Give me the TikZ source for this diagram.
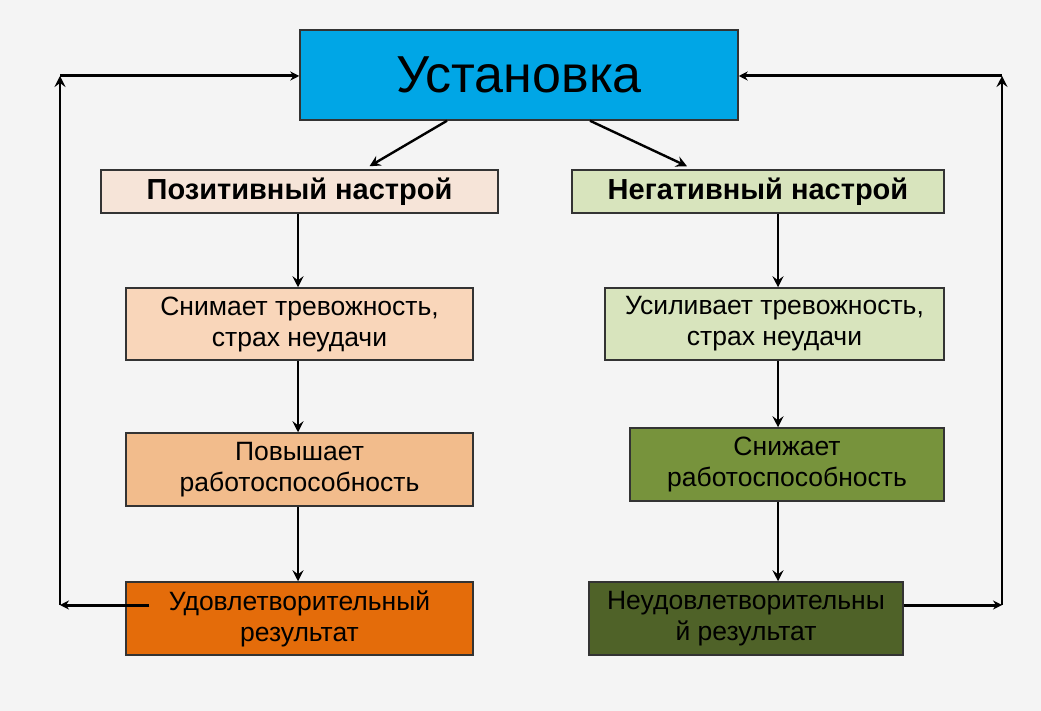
\documentclass[tikz,border=0pt]{standalone}
\usepackage{fontspec}
\setmainfont{Liberation Sans}
\usetikzlibrary{arrows.meta}
\usetikzlibrary{calc}

\definecolor{fon}{HTML}{F4F4F4}
\definecolor{sinij}{HTML}{00A6E6}
\definecolor{bezh}{HTML}{F6E4D8}
\definecolor{persik}{HTML}{F9D6BA}
\definecolor{persiktemn}{HTML}{F2BC8C}
\definecolor{oranzh}{HTML}{E46C0A}
\definecolor{salat}{HTML}{D8E4BD}
\definecolor{olivka}{HTML}{77933C}
\definecolor{olivkatemn}{HTML}{4F6228}

\begin{document}
\begin{tikzpicture}[
        x=1pt, y=-1pt, % Координаты в пикселях исходной картинки
        font=\fontsize{26.5}{31}\selectfont,
        % --- Стили ---
        box/.style={draw=black!80, line width=1.5pt, align=center, inner sep=0pt},
        headbox/.style={box, font=\bfseries\fontsize{29}{32}\selectfont},
        arrow/.style={-{Stealth[length=11pt, width=11pt, inset=4pt]}, line width=2.4pt},
        loop/.style={-{Stealth[length=9pt, width=9pt, inset=3pt]}, line width=3pt},
    ]
        % --- 0. Фон ---
        \fill[fon] (0,0) rectangle (1041,711);
        \useasboundingbox (0,0) rectangle (1041,711);

        % --- 1. Главный блок ---
        \node[box, fill=sinij, minimum width=438pt, minimum height=90pt,
              font=\fontsize{52}{56}\selectfont] (ustanovka) at (519,75) {Установка};

        % --- 2. Левая ветка ---
        \node[headbox, fill=bezh, minimum width=397pt, minimum height=43pt] (pozitiv) at (299.5,191.5) {Позитивный настрой};
        \node[box, fill=persik, minimum width=347pt, minimum height=72pt] (snimaet) at (299.5,324) {Снимает тревожность,\\страх неудачи};
        \node[box, fill=persiktemn, minimum width=347pt, minimum height=73pt] (povyshaet) at (299.5,469.5) {Повышает\\работоспособность};
        \node[box, fill=oranzh, minimum width=347pt, minimum height=73pt] (udovl) at (299.5,618.5) {Удовлетворительный\\результат};

        % --- 3. Правая ветка ---
        \node[headbox, fill=salat, minimum width=372pt, minimum height=43pt] (negativ) at (758,191.5) {Негативный настрой};
        \node[box, fill=salat, minimum width=339pt, minimum height=72pt] (usilivaet) at (774.5,324) {Усиливает тревожность,\\страх неудачи};
        \node[box, fill=olivka, minimum width=314pt, minimum height=73pt] (snizhaet) at (787,464.5) {Снижает\\работоспособность};
        \node[box, fill=olivkatemn, text=black, minimum width=314pt, minimum height=73pt] (neudovl) at (746,618.5) {Неудовлетворительны\\й результат};

        % --- 4. Стрелки вниз ---
        \coordinate (lcol) at (298,0);
        \coordinate (rcol) at (778,0);
        \draw[arrow] ($(ustanovka.south)+(-72,0)$) -- ($(pozitiv.north)+(70,-3)$);
        \draw[arrow] ($(ustanovka.south)+(71,0)$) -- ($(negativ.north)+(-71,-3)$);
        \draw[arrow] (pozitiv.south -| lcol) -- (snimaet.north -| lcol);
        \draw[arrow] (snimaet.south -| lcol) -- (povyshaet.north -| lcol);
        \draw[arrow] (povyshaet.south -| lcol) -- (udovl.north -| lcol);
        \draw[arrow] (negativ.south -| rcol) -- (usilivaet.north -| rcol);
        \draw[arrow] (usilivaet.south -| rcol) -- (snizhaet.north -| rcol);
        \draw[arrow] (snizhaet.south -| rcol) -- (neudovl.north -| rcol);

        % --- 5. Обратная связь ---
        \coordinate (lniz) at (60,605);
        \coordinate (lverh) at (60,76);
        \coordinate (rniz) at (1002,605);
        \coordinate (rverh) at (1002,76);
        \draw[loop] ($(udovl.west)+(24,-13.5)$) -- (lniz);
        \draw[arrow, line width=2.2pt] (lniz) -- (lverh);
        \draw[loop] (lverh) -- (ustanovka.west |- lverh);
        \draw[loop] (neudovl.east |- rniz) -- (rniz);
        \draw[arrow, line width=2.2pt] (rniz) -- (rverh);
        \draw[loop] (rverh) -- (ustanovka.east |- rverh);

    \end{tikzpicture}
\end{document}
